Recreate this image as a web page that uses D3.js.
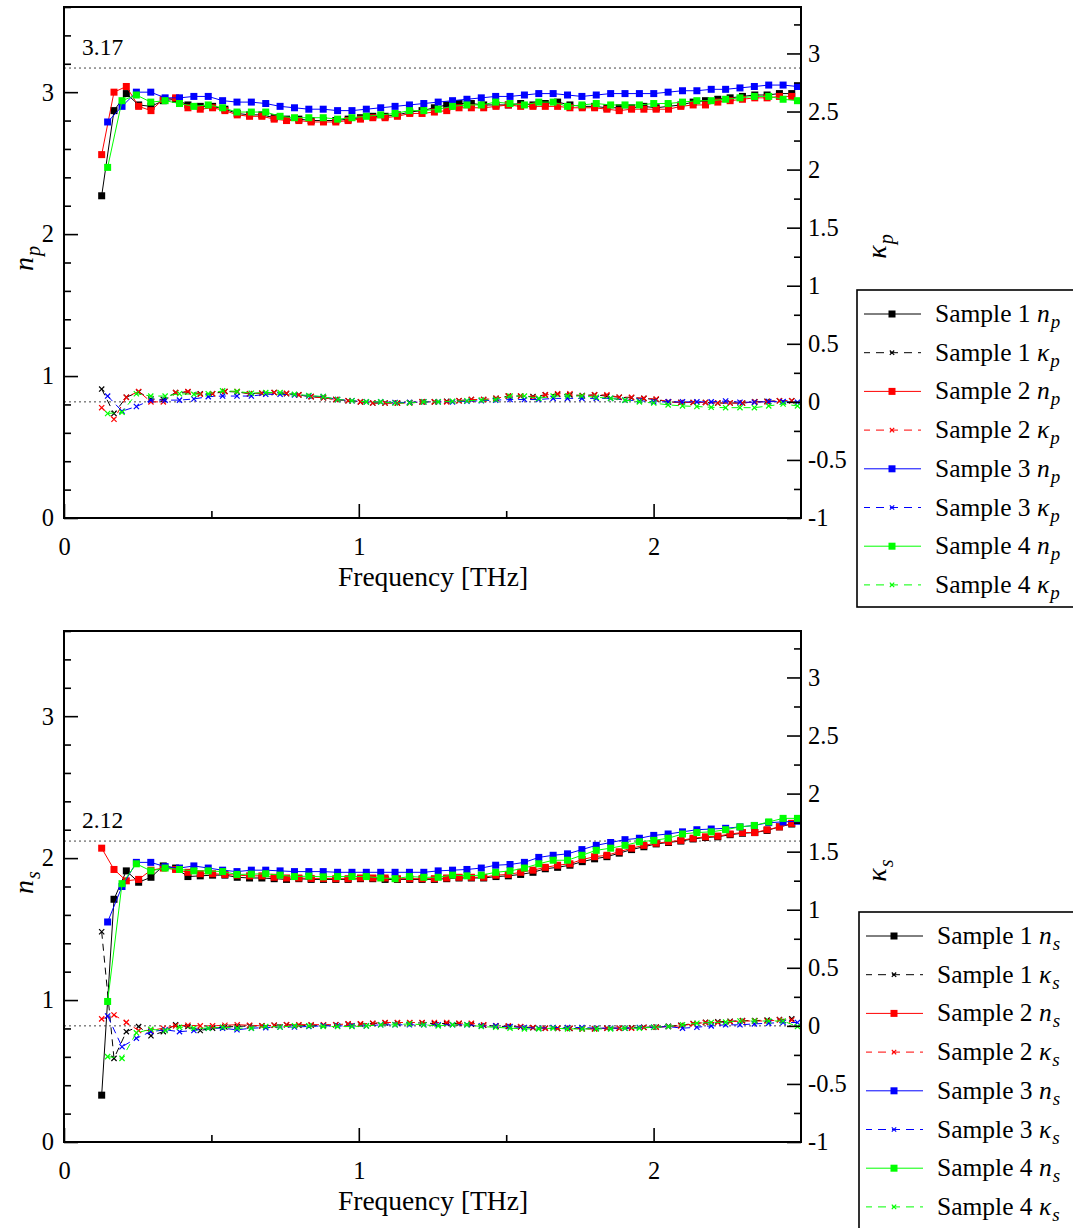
<!DOCTYPE html>
<html><head><meta charset="utf-8">
<script src="https://cdn.jsdelivr.net/npm/d3@7"></script>
<style>body{margin:0;background:#fff}svg{display:block}svg text{font-family:"Liberation Serif","Times New Roman",serif !important}</style>
</head><body>
<svg id="c" width="1073" height="1228"></svg>
<script>
// ---------- DATA ----------
const sampleNames = ["Sample 1","Sample 2","Sample 3","Sample 4"];
const sampleColors = ["#000000","#ff0000","#0000ff","#00ff00"];
// frequency grids (THz): samples 1,2 use grid A; samples 3,4 use grid B
const freqA = [0.1278,0.1696,0.2114,0.2532,0.2950,0.3368,0.3786,0.4204,0.4622,0.5040,0.5458,0.5876,0.6294,0.6712,0.7130,0.7548,0.7966,0.8384,0.8802,0.9220,0.9638,1.0056,1.0474,1.0892,1.1310,1.1728,1.2146,1.2564,1.2982,1.3400,1.3818,1.4236,1.4654,1.5072,1.5490,1.5908,1.6326,1.6744,1.7162,1.7580,1.7998,1.8416,1.8834,1.9252,1.9670,2.0088,2.0506,2.0924,2.1342,2.1760,2.2178,2.2596,2.3014,2.3432,2.3850,2.4268,2.4686];
const freqB = [0.148,0.1968,0.2455,0.2943,0.343,0.3918,0.4405,0.4893,0.538,0.5868,0.6355,0.6843,0.733,0.7818,0.8305,0.8793,0.928,0.9768,1.0255,1.0743,1.123,1.1718,1.2205,1.2693,1.318,1.3668,1.4155,1.4643,1.513,1.5618,1.6105,1.6593,1.708,1.7568,1.8055,1.8543,1.903,1.9518,2.0005,2.0493,2.098,2.1468,2.1955,2.2443,2.293,2.3418,2.3905,2.4393,2.488];

// ---- panel p ----
const np1 = [2.27,2.87,2.99,2.91,2.90,2.94,2.95,2.91,2.90,2.90,2.88,2.85,2.84,2.84,2.82,2.81,2.81,2.80,2.80,
 2.80,2.81,2.82,2.83,2.83,2.84,2.86,2.87,2.89,2.91,2.92,2.92,2.91,2.91,2.91,2.92,2.91,2.92,2.93,2.91,2.90,2.90,2.89,2.89,2.89,2.90,2.89,2.90,2.91,2.93,2.94,2.95,2.96,2.97,2.98,2.98,2.99,2.99];
const np2 = [2.56,3.00,3.04,2.90,2.87,2.95,2.96,2.89,2.88,2.89,2.87,2.84,2.83,2.83,2.81,2.80,2.80,2.79,2.79,
 2.79,2.80,2.81,2.82,2.82,2.83,2.85,2.85,2.86,2.87,2.89,2.89,2.89,2.90,2.91,2.90,2.90,2.90,2.90,2.89,2.89,2.89,2.88,2.87,2.88,2.88,2.88,2.88,2.90,2.91,2.91,2.93,2.94,2.95,2.96,2.96,2.97,2.97];
const np3 = [2.79,2.90,3.00,3.00,2.96,2.96,2.97,2.97,2.94,2.93,2.93,2.92,2.90,2.89,2.88,2.88,
 2.87,2.87,2.88,2.89,2.90,2.91,2.92,2.93,2.94,2.95,2.96,2.97,2.97,2.98,2.99,2.99,2.98,2.97,2.98,2.99,2.99,2.99,2.99,3.00,3.01,3.01,3.02,3.02,3.03,3.04,3.05,3.05,3.04];
const np4 = [2.47,2.94,2.98,2.93,2.94,2.92,2.90,2.91,2.89,2.86,2.86,2.86,2.83,2.82,2.82,2.82,
 2.81,2.82,2.83,2.84,2.85,2.87,2.87,2.88,2.90,2.91,2.91,2.93,2.92,2.91,2.93,2.93,2.90,2.91,2.92,2.91,2.91,2.91,2.92,2.92,2.93,2.94,2.94,2.95,2.96,2.97,2.97,2.95,2.94];
const kp1 = [0.11,-0.10,0.04,0.085,0.025,0.02,0.08,0.085,0.07,0.07,0.09,0.085,0.07,0.075,0.08,0.07,0.06,0.045,0.035,
 0.02,0.01,0.0,-0.01,-0.01,-0.01,-0.005,0.0,0.0,0.005,0.01,0.02,0.02,0.03,0.05,0.05,0.045,0.06,0.065,0.06,0.055,0.06,0.05,0.04,0.035,0.03,0.02,0.0,-0.005,-0.005,-0.005,-0.01,-0.01,-0.01,0.0,0.005,0.01,0.01];
const kp2 = [-0.05,-0.15,0.04,0.09,0.0,0.0,0.08,0.09,0.065,0.07,0.09,0.09,0.07,0.075,0.08,0.075,0.06,0.045,0.035,
 0.02,0.01,0.0,-0.01,-0.01,-0.01,-0.01,0.0,0.0,0.0,0.01,0.02,0.02,0.03,0.05,0.05,0.04,0.06,0.07,0.07,0.05,0.06,0.06,0.04,0.04,0.03,0.025,0.0,-0.005,-0.005,-0.005,-0.01,-0.01,-0.01,0.0,0.0,0.01,0.01];
const kp3 = [0.05,-0.08,-0.04,0.015,0.015,0.015,0.025,0.045,0.05,0.05,0.05,0.065,0.065,0.06,0.05,0.045,
 0.02,0.01,0.0,0.0,-0.005,-0.005,0.0,0.0,0.0,0.005,0.01,0.015,0.02,0.02,0.02,0.03,0.03,0.03,0.03,0.03,0.015,0.01,0.0,0.0,0.0,0.0,0.0,0.007,-0.003,-0.003,0.002,0.002,-0.003];
const kp4 = [-0.10,-0.09,0.07,0.05,0.05,0.07,0.065,0.07,0.095,0.09,0.075,0.08,0.08,0.065,0.055,0.045,
 0.02,0.01,0.0,0.0,-0.01,-0.01,0.0,0.0,0.005,0.01,0.015,0.02,0.05,0.05,0.03,0.05,0.05,0.05,0.04,0.03,0.015,0.0,-0.01,-0.026,-0.035,-0.04,-0.047,-0.05,-0.05,-0.05,-0.035,-0.018,-0.035];

// ---- panel s ----
const ns1 = [0.33,1.71,1.91,1.83,1.865,1.945,1.93,1.87,1.875,1.88,1.88,1.865,1.86,1.86,1.855,1.85,1.855,1.85,1.85,
 1.85,1.85,1.855,1.855,1.85,1.85,1.85,1.85,1.85,1.855,1.86,1.86,1.86,1.87,1.875,1.885,1.90,1.925,1.935,1.95,1.975,1.995,2.01,2.035,2.06,2.08,2.10,2.11,2.12,2.135,2.145,2.15,2.165,2.175,2.18,2.195,2.22,2.24];
const ns2 = [2.07,1.92,1.84,1.85,1.915,1.93,1.92,1.90,1.89,1.89,1.885,1.88,1.875,1.875,1.865,1.86,1.86,1.857,1.857,
 1.855,1.855,1.86,1.86,1.86,1.855,1.855,1.855,1.855,1.86,1.865,1.865,1.865,1.88,1.885,1.90,1.915,1.935,1.95,1.96,1.99,2.01,2.02,2.045,2.07,2.09,2.105,2.115,2.125,2.14,2.15,2.155,2.17,2.18,2.18,2.20,2.22,2.245];
const ns3 = [1.55,1.80,1.97,1.97,1.94,1.93,1.945,1.93,1.915,1.905,1.915,1.915,1.91,1.905,1.905,1.905,
 1.90,1.90,1.90,1.90,1.90,1.90,1.90,1.91,1.915,1.92,1.93,1.95,1.955,1.97,2.005,2.02,2.03,2.06,2.09,2.11,2.13,2.14,2.16,2.17,2.185,2.20,2.205,2.21,2.22,2.23,2.25,2.255,2.26];
const ns4 = [0.99,1.82,1.96,1.91,1.93,1.92,1.91,1.91,1.905,1.885,1.887,1.89,1.88,1.87,1.873,1.868,
 1.87,1.87,1.87,1.86,1.855,1.87,1.865,1.865,1.88,1.875,1.88,1.90,1.91,1.93,1.96,1.985,1.985,2.02,2.055,2.07,2.09,2.115,2.125,2.14,2.17,2.18,2.185,2.20,2.22,2.23,2.255,2.28,2.28];
const ks1 = [0.81,-0.28,-0.05,-0.006,-0.085,-0.05,0.01,-0.006,-0.04,-0.02,-0.01,-0.005,0.0,0.0,0.005,0.01,0.005,0.005,0.005,
 0.01,0.015,0.015,0.02,0.025,0.025,0.025,0.025,0.02,0.02,0.02,0.015,0.005,-0.003,-0.006,-0.01,-0.017,-0.02,-0.022,-0.022,-0.025,-0.025,-0.02,-0.02,-0.017,-0.012,-0.01,-0.004,0.005,0.02,0.03,0.035,0.04,0.045,0.045,0.05,0.055,0.06];
const ks2 = [0.06,0.094,0.03,-0.04,-0.04,-0.02,0.0,0.005,0.0,0.0,0.005,0.01,0.005,0.0,0.005,0.01,0.01,0.01,0.01,
 0.01,0.017,0.017,0.023,0.029,0.029,0.029,0.029,0.029,0.029,0.023,0.023,0.009,0.0,0.0,-0.006,-0.014,-0.02,-0.02,-0.02,-0.026,-0.026,-0.02,-0.02,-0.02,-0.014,-0.012,-0.006,0.0,0.017,0.029,0.029,0.036,0.042,0.042,0.042,0.051,0.051];
const ks3 = [0.085,-0.18,-0.107,-0.05,-0.034,-0.05,-0.04,-0.02,-0.02,-0.034,-0.02,-0.015,-0.01,-0.01,-0.005,0.0,
 0.0,0.0,0.0,0.009,0.009,0.009,0.009,0.009,0.009,0.009,0.0,0.0,-0.006,-0.014,-0.02,-0.014,-0.014,-0.014,-0.02,-0.02,-0.02,-0.014,-0.012,-0.006,-0.02,-0.012,0.0,0.009,0.009,0.017,0.023,0.029,0.029];
const ks4 = [-0.265,-0.28,-0.06,-0.03,-0.04,-0.012,-0.02,-0.02,-0.012,-0.02,-0.02,-0.005,-0.01,0.0,0.0,-0.005,
 -0.006,-0.006,0.0,0.009,0.009,0.017,0.009,0.0,0.009,0.009,-0.006,-0.012,-0.02,-0.026,-0.026,-0.02,-0.026,-0.026,-0.026,-0.026,-0.02,-0.02,-0.012,-0.006,0.009,0.023,0.029,0.032,0.042,0.042,0.042,0.042,-0.006];

const xTicks = [0,1,2];
const nTicks = [0,1,2,3];
const kTicks = [-1,-0.5,0,0.5,1,1.5,2,2.5,3];
const refValues = [3.17, 2.12];

// ---------- DRAW ----------
const svg = d3.select("#c");
const X0 = 64, X1 = 801;
const x = d3.scaleLinear().domain([0,2.5]).range([X0,X1]);

function panel(cfg){
  const g = svg.append("g");
  const yN = d3.scaleLinear().domain([0,3.6]).range([cfg.bottom,cfg.top]);
  const yK = d3.scaleLinear().domain([-1,3.4]).range([cfg.bottom,cfg.top]);

  // reference dotted lines
  [yN(cfg.ref), yK(0)].forEach(yy=>{
    g.append("line").attr("x1",X0).attr("x2",X1).attr("y1",yy).attr("y2",yy)
      .attr("stroke","#444").attr("stroke-width",1).attr("stroke-dasharray","2,3");
  });
  g.append("text").attr("x",82).attr("y",yN(cfg.ref)-13).attr("font-size",23.5).text(cfg.ref.toFixed(2));

  // series
  const grids = [freqA,freqA,freqB,freqB];
  const lineN = (fr)=>d3.line().x((d,i)=>x(fr[i])).y(d=>yN(d));
  const lineK = (fr)=>d3.line().x((d,i)=>x(fr[i])).y(d=>yK(d));
  for(let s=0;s<4;s++){
    const fr = grids[s], col = sampleColors[s];
    const nd = cfg.n[s], kd = cfg.k[s];
    g.append("path").attr("d",lineN(fr)(nd)).attr("fill","none").attr("stroke",col).attr("stroke-width",1);
    g.selectAll(null).data(nd).enter().append("rect")
      .attr("x",(d,i)=>x(fr[i])-3.5).attr("y",d=>yN(d)-3.5).attr("width",7).attr("height",7).attr("fill",col);
    g.append("path").attr("d",lineK(fr)(kd)).attr("fill","none").attr("stroke",col).attr("stroke-width",1).attr("stroke-dasharray","7,5");
    g.selectAll(null).data(kd).enter().append("path")
      .attr("d",(d,i)=>{const cx=x(fr[i]),cy=yK(d),r=2.6;return `M${cx-r},${cy-r}L${cx+r},${cy+r}M${cx-r},${cy+r}L${cx+r},${cy-r}`;})
      .attr("stroke",col).attr("stroke-width",1.2).attr("fill","none");
  }

  // axes
  const fs = 24.5;
  const leftMajor = d3.axisLeft(yN).tickValues(nTicks).tickFormat(d3.format("d")).tickSizeInner(-14).tickSizeOuter(0).tickPadding(10);
  const leftMinor = d3.axisLeft(yN).tickValues(d3.range(0,3.61,0.2).filter(v=>Math.abs(v-Math.round(v))>1e-6)).tickFormat("").tickSizeInner(-7).tickSizeOuter(0);
  g.append("g").attr("transform",`translate(${X0},0)`).call(leftMajor);
  g.append("g").attr("transform",`translate(${X0},0)`).call(leftMinor);
  const rightMajor = d3.axisRight(yK).tickValues(kTicks).tickFormat(d=>String(d)).tickSizeInner(-14).tickSizeOuter(0).tickPadding(7);
  const rightMinor = d3.axisRight(yK).tickValues(d3.range(-0.75,3.4,0.5)).tickFormat("").tickSizeInner(-7).tickSizeOuter(0);
  g.append("g").attr("transform",`translate(${X1},0)`).call(rightMajor);
  g.append("g").attr("transform",`translate(${X1},0)`).call(rightMinor);
  const botMajor = d3.axisBottom(x).tickValues(xTicks).tickFormat(d3.format("d")).tickSizeInner(-14).tickSizeOuter(0).tickPadding(20);
  const botMinor = d3.axisBottom(x).tickValues([0.5,1.5]).tickFormat("").tickSizeInner(-7).tickSizeOuter(0);
  g.append("g").attr("transform",`translate(0,${cfg.bottom})`).call(botMajor);
  g.append("g").attr("transform",`translate(0,${cfg.bottom})`).call(botMinor);
  g.selectAll(".domain").remove();
  g.selectAll(".tick line").attr("stroke","#000").attr("stroke-width",1.6);
  g.selectAll(".tick text").attr("font-size",fs).attr("fill","#000");

  // frame
  g.append("rect").attr("x",X0).attr("y",cfg.top).attr("width",X1-X0).attr("height",cfg.bottom-cfg.top)
    .attr("fill","none").attr("stroke","#000").attr("stroke-width",2);

  // axis titles
  g.append("text").attr("x",433).attr("y",cfg.bottom+68).attr("text-anchor","middle").attr("font-size",27.5).text("Frequency [THz]");
  const tn = g.append("text").attr("transform",`translate(33,${(cfg.top+cfg.bottom)/2 - 4}) rotate(-90)`).attr("text-anchor","middle").attr("font-size",28);
  tn.append("tspan").attr("font-style","italic").text("n");
  tn.append("tspan").attr("font-style","italic").attr("font-size",20).attr("dx",1).attr("dy",7).text(cfg.sub);
  const tk = g.append("text").attr("transform",`translate(886,${(cfg.top+cfg.bottom)/2-16}) rotate(-90)`).attr("text-anchor","middle").attr("font-size",28);
  tk.append("tspan").attr("font-style","italic").text("κ");
  tk.append("tspan").attr("font-style","italic").attr("font-size",20).attr("dx",1).attr("dy",7).text(cfg.sub);

  // legend
  const L = g.append("g").attr("transform",`translate(${cfg.lx},${cfg.ly})`);
  L.append("rect").attr("x",0).attr("y",0).attr("width",240).attr("height",cfg.lh).attr("fill","#fff").attr("stroke","#000").attr("stroke-width",1.6);
  for(let s=0;s<4;s++){
    for(let t=0;t<2;t++){
      const row = s*2+t, yy = 24 + row*38.7, col = sampleColors[s];
      const ln = L.append("line").attr("x1",7).attr("x2",64).attr("y1",yy).attr("y2",yy).attr("stroke",col).attr("stroke-width",1);
      if(t===0){
        L.append("rect").attr("x",35-3.5).attr("y",yy-3.5).attr("width",7).attr("height",7).attr("fill",col);
      } else {
        ln.attr("stroke-dasharray","8,6").attr("stroke-dashoffset",2);
        const r=2.2;
        L.append("path").attr("d",`M${35-r},${yy-r}L${35+r},${yy+r}M${35-r},${yy+r}L${35+r},${yy-r}`).attr("stroke",col).attr("stroke-width",1.2);
      }
      const tx = L.append("text").attr("x",78).attr("y",yy+8).attr("font-size",25.5);
      tx.append("tspan").text(sampleNames[s]+" ");
      tx.append("tspan").attr("font-style","italic").text(t===0?"n":"κ");
      tx.append("tspan").attr("font-style","italic").attr("font-size",19).attr("dx",1).attr("dy",6).text(cfg.sub);
    }
  }
}

panel({top:7,bottom:518,ref:refValues[0],sub:"p",n:[np1,np2,np3,np4],k:[kp1,kp2,kp3,kp4],lx:857,ly:290,lh:317});
panel({top:631,bottom:1142,ref:refValues[1],sub:"s",n:[ns1,ns2,ns3,ns4],k:[ks1,ks2,ks3,ks4],lx:859,ly:912,lh:330});
</script>
</body></html>
